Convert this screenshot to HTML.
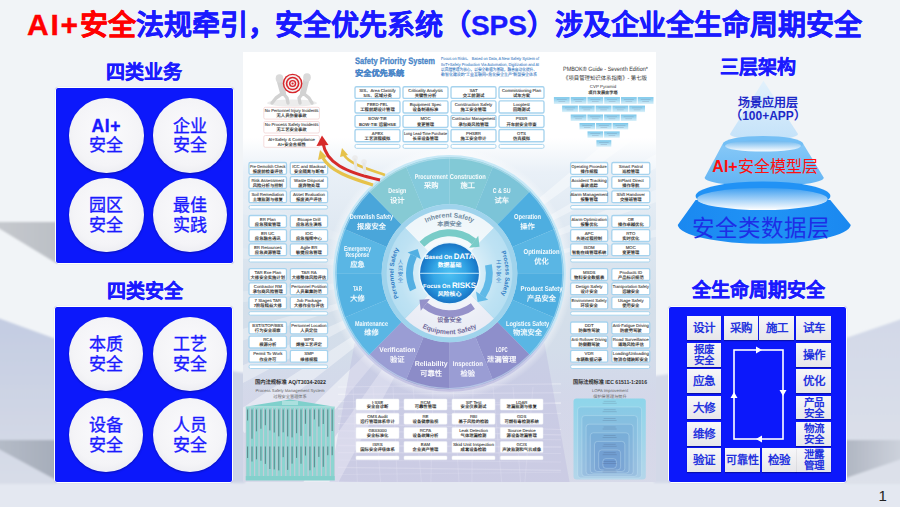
<!DOCTYPE html>
<html lang="zh-CN"><head><meta charset="utf-8">
<style>
*{margin:0;padding:0;box-sizing:border-box}
html,body{width:900px;height:507px;overflow:hidden}
body{position:relative;background:#f1f4f7;font-family:"Liberation Sans",sans-serif}
.abs{position:absolute}
.title{position:absolute;left:27px;top:7px;font-size:28px;font-weight:bold;color:#1a1aff;-webkit-text-stroke:0.35px currentColor;white-space:nowrap;line-height:36px;letter-spacing:-0.07px}
.title .r{color:#ff0000}
.h{position:absolute;font-size:19px;font-weight:bold;color:#1a1aff;-webkit-text-stroke:0.3px currentColor;white-space:nowrap;line-height:22px;text-align:center}
.bluebox{position:absolute;background:#0c18fb;border:1px solid #fff;border-radius:3px;box-shadow:0 0 1px rgba(0,0,0,.2)}
.circ{position:absolute;width:74.5px;height:74.5px;border-radius:50%;background:radial-gradient(circle at 50% 45%,#fbfbfd 0%,#f4f4f7 60%,#e2e3ea 100%);text-align:center;color:#1a1aff;font-family:"Liberation Serif",serif;font-size:17px;line-height:19.5px;-webkit-text-stroke:0.35px currentColor;display:flex;align-items:center;justify-content:center;box-shadow:0 1px 2px rgba(0,0,40,.35)}
.circ>div{margin-top:2px}
.circ b{font-family:"Liberation Sans",sans-serif;font-size:17.5px;letter-spacing:0.6px}
.cell{position:absolute;background:linear-gradient(#f7f7f9,#e6e6ea);color:#2433de;font-size:11.5px;font-weight:bold;text-align:center;line-height:24px;box-shadow:0 1px 1px rgba(0,0,30,.35)}
.cell.two{line-height:11px;padding-top:1px;font-size:10.5px}
</style></head>
<body>
<!-- background shapes -->
<svg class="abs" style="left:0;top:0" width="900" height="507">
 <defs>
  <filter id="bl" x="-10%" y="-10%" width="120%" height="120%"><feGaussianBlur stdDeviation="1.2"/></filter>
  <linearGradient id="shL" x1="0" x2="1" y1="0" y2="0"><stop offset="0" stop-color="#c6c9ce"/><stop offset="1" stop-color="#bcc0c6"/></linearGradient>
  <linearGradient id="floorL" x1="0" x2="0" y1="0" y2="1"><stop offset="0" stop-color="#c3cce2"/><stop offset="0.6" stop-color="#d0d6e5"/><stop offset="1" stop-color="#d8dde8"/></linearGradient>
  <linearGradient id="floorR" x1="0" x2="0" y1="0" y2="1"><stop offset="0" stop-color="#d2d8e8"/><stop offset="0.6" stop-color="#d9dee9"/><stop offset="1" stop-color="#dde1ea"/></linearGradient>
  <linearGradient id="bandL" x1="0" x2="1" y1="0" y2="0"><stop offset="0" stop-color="#b5bcc8"/><stop offset="1" stop-color="#a6adba"/></linearGradient>
  <linearGradient id="bandR" x1="0" x2="1" y1="0" y2="0"><stop offset="0" stop-color="#b0b6c2"/><stop offset="1" stop-color="#cfd4de"/></linearGradient>
 </defs>
 <rect x="0" y="482" width="900" height="25" fill="#e4e8f1"/>
 <g filter="url(#bl)">
 <polygon points="-5,222 56,222 56,263 -5,226" fill="url(#shL)"/>
 <polygon points="-5,317 56,339 56,484 -5,484" fill="url(#floorL)"/>
 <polygon points="-5,440 56,440 56,480 -5,447" fill="url(#bandL)"/>
 <polygon points="846,338 905,318 905,484 846,484" fill="url(#floorR)"/>
 <polygon points="846,440 905,440 905,458 846,478" fill="url(#bandR)"/>
 <polygon points="232,371 245,373 245,483 232,483" fill="#cdd4e5"/>
 <polygon points="654,376 669,374 669,483 654,483" fill="#d3d9e8"/>
 </g>
</svg>

<div class="title"><span class="r"><span style="font-size:30px;letter-spacing:1.8px">AI+</span>安全</span>法规牵引，安全优先系统（SPS）涉及企业全生命周期安全</div>

<div class="h" style="left:104px;top:62px;width:80px">四类业务</div>
<div class="bluebox" style="left:54.5px;top:86.5px;width:179.5px;height:177.5px"></div>
<div class="circ" style="left:69px;top:98px"><div><b>AI+</b><br>安全</div></div>
<div class="circ" style="left:152.5px;top:98px"><div>企业<br>安全</div></div>
<div class="circ" style="left:69px;top:177.5px"><div>园区<br>安全</div></div>
<div class="circ" style="left:152.5px;top:177.5px"><div>最佳<br>实践</div></div>

<div class="h" style="left:104.5px;top:280.5px;width:80px">四类安全</div>
<div class="bluebox" style="left:53.5px;top:305.5px;width:179.5px;height:177px"></div>
<div class="circ" style="left:68.5px;top:316.5px"><div>本质<br>安全</div></div>
<div class="circ" style="left:152.5px;top:316.5px"><div>工艺<br>安全</div></div>
<div class="circ" style="left:68.5px;top:397.5px"><div>设备<br>安全</div></div>
<div class="circ" style="left:152.5px;top:397.5px"><div>人员<br>安全</div></div>

<svg class="abs" style="left:243px;top:52px" width="413" height="430" viewBox="0 0 413 430" font-family="Liberation Sans, sans-serif" text-rendering="geometricPrecision"><defs>
<linearGradient id="cbg" x1="0" y1="0" x2="0" y2="1">
 <stop offset="0" stop-color="#ffffff"/><stop offset="0.2" stop-color="#ffffff"/>
 <stop offset="0.28" stop-color="#e9f0f7"/><stop offset="0.45" stop-color="#dce6f0"/><stop offset="0.6" stop-color="#d4dfea"/><stop offset="0.75" stop-color="#d3dcea"/><stop offset="0.9" stop-color="#d5d9e8"/><stop offset="1" stop-color="#d4d8e8"/>
</linearGradient>
<linearGradient id="lav" x1="0" y1="0" x2="0" y2="1">
 <stop offset="0" stop-color="#d4d4ea" stop-opacity="0"/><stop offset="0.35" stop-color="#d4d4ea" stop-opacity="0.45"/><stop offset="1" stop-color="#d8dae9" stop-opacity="0.7"/>
</linearGradient>
<radialGradient id="glow" cx="0.5" cy="0.5" r="0.5">
 <stop offset="0.85" stop-color="#ffffff" stop-opacity="0.9"/><stop offset="1" stop-color="#ffffff" stop-opacity="0"/>
</radialGradient>
<radialGradient id="core" cx="0.5" cy="0.5" r="0.5">
 <stop offset="0" stop-color="#4cc0f2"/><stop offset="0.55" stop-color="#34a6e6"/><stop offset="0.85" stop-color="#1f86d2"/><stop offset="1" stop-color="#1a74c4"/>
</radialGradient>
<radialGradient id="midring" cx="0.5" cy="0.5" r="0.5">
 <stop offset="0.42" stop-color="#ffffff"/><stop offset="0.75" stop-color="#e6f3fa"/><stop offset="1" stop-color="#c4e4f4"/>
</radialGradient>
<radialGradient id="qfade" cx="0.5" cy="0.5" r="0.5">
 <stop offset="0.45" stop-color="#ffffff" stop-opacity="0.5"/><stop offset="0.8" stop-color="#ffffff" stop-opacity="0.1"/><stop offset="1" stop-color="#ffffff" stop-opacity="0"/>
</radialGradient>
<linearGradient id="purp" x1="0" y1="0" x2="0" y2="1">
 <stop offset="0" stop-color="#a7a3d6" stop-opacity="0.75"/><stop offset="1" stop-color="#c9c6e6" stop-opacity="0.35"/>
</linearGradient>
<linearGradient id="pyr" x1="0" y1="0" x2="0" y2="1">
 <stop offset="0" stop-color="#78c6ea"/><stop offset="0.5" stop-color="#a6daf2"/><stop offset="1" stop-color="#dcf1fa"/>
</linearGradient>
<linearGradient id="nest0" x1="0" y1="0" x2="0" y2="1">
 <stop offset="0" stop-color="#8ed5ea"/><stop offset="1" stop-color="#b4d6ea"/>
</linearGradient>
<linearGradient id="rimg" x1="0" y1="0" x2="0" y2="1">
 <stop offset="0" stop-color="#c6e8f6"/><stop offset="0.7" stop-color="#c6e6f6"/><stop offset="0.85" stop-color="#c9cdea"/><stop offset="1" stop-color="#c4c2e2"/>
</linearGradient>
<linearGradient id="teal" x1="0" y1="0" x2="0" y2="1">
 <stop offset="0" stop-color="#8ad6d2"/><stop offset="1" stop-color="#7ccdc9"/>
</linearGradient>
</defs>
<rect x="0" y="0" width="413" height="430" fill="url(#cbg)"/>
<rect x="0" y="300" width="413" height="130" fill="url(#lav)"/>
<line x1="95" y1="335" x2="318" y2="331.86" stroke="#ffffff" stroke-width="1.1" opacity="0.35"/>
<line x1="95" y1="342.3" x2="318" y2="340.74" stroke="#ffffff" stroke-width="1.2" opacity="0.35"/>
<line x1="95" y1="349.6" x2="318" y2="351.11" stroke="#ffffff" stroke-width="0.7" opacity="0.35"/>
<line x1="95" y1="356.9" x2="318" y2="351.06" stroke="#ffffff" stroke-width="1.4" opacity="0.35"/>
<line x1="95" y1="364.2" x2="318" y2="361.31" stroke="#ffffff" stroke-width="0.8" opacity="0.35"/>
<line x1="95" y1="371.5" x2="318" y2="377.45" stroke="#ffffff" stroke-width="1.1" opacity="0.35"/>
<line x1="95" y1="378.8" x2="318" y2="382.84" stroke="#ffffff" stroke-width="1.1" opacity="0.35"/>
<line x1="95" y1="386.1" x2="318" y2="387.77" stroke="#ffffff" stroke-width="0.8" opacity="0.35"/>
<line x1="95" y1="393.4" x2="318" y2="395.02" stroke="#ffffff" stroke-width="1.5" opacity="0.35"/>
<line x1="95" y1="400.7" x2="318" y2="400.98" stroke="#ffffff" stroke-width="1.3" opacity="0.35"/>
<line x1="95" y1="408" x2="318" y2="410.06" stroke="#ffffff" stroke-width="0.7" opacity="0.35"/>
<line x1="95" y1="415.3" x2="318" y2="418.4" stroke="#ffffff" stroke-width="1.2" opacity="0.35"/>
<line x1="95" y1="422.6" x2="318" y2="420.22" stroke="#ffffff" stroke-width="0.6" opacity="0.35"/>
<line x1="95" y1="429.9" x2="318" y2="434.29" stroke="#ffffff" stroke-width="1.1" opacity="0.35"/>
<line x1="110" y1="335" x2="114.4" y2="430" stroke="#ffffff" stroke-width="1" opacity="0.25"/>
<line x1="130" y1="335" x2="137.6" y2="430" stroke="#ffffff" stroke-width="1" opacity="0.25"/>
<line x1="150" y1="335" x2="154.3" y2="430" stroke="#ffffff" stroke-width="1" opacity="0.25"/>
<line x1="170" y1="335" x2="178.4" y2="430" stroke="#ffffff" stroke-width="1" opacity="0.25"/>
<line x1="190" y1="335" x2="187.9" y2="430" stroke="#ffffff" stroke-width="1" opacity="0.25"/>
<line x1="210" y1="335" x2="216.0" y2="430" stroke="#ffffff" stroke-width="1" opacity="0.25"/>
<line x1="230" y1="335" x2="228.9" y2="430" stroke="#ffffff" stroke-width="1" opacity="0.25"/>
<line x1="250" y1="335" x2="258.7" y2="430" stroke="#ffffff" stroke-width="1" opacity="0.25"/>
<line x1="270" y1="335" x2="277.6" y2="430" stroke="#ffffff" stroke-width="1" opacity="0.25"/>
<line x1="290" y1="335" x2="281.9" y2="430" stroke="#ffffff" stroke-width="1" opacity="0.25"/>
<polygon points="206.5,221.3 84.44,450.87 57.37,434.28" fill="#ffffff" opacity="0.5"/>
<polygon points="206.5,221.3 39.38,420.47 19.47,401.91" fill="#ffffff" opacity="0.45"/>
<polygon points="206.5,221.3 1.62,381.37 -11.55,362.91" fill="#ffffff" opacity="0.4"/>
<polygon points="206.5,221.3 -23.07,343.36 -31.02,327.05" fill="#ffffff" opacity="0.35"/>
<polygon points="206.5,221.3 -40.77,301.64 -44.64,288.59" fill="#ffffff" opacity="0.3"/>
<polygon points="206.5,221.3 -50.97,257.49 -52.51,243.96" fill="#ffffff" opacity="0.22"/>
<polygon points="206.5,221.3 -52.87,203.16 -51.56,189.61" fill="#ffffff" opacity="0.15"/>
<polygon points="206.5,221.3 -43.43,149.63 -37.82,132.37" fill="#ffffff" opacity="0.12"/>
<polygon points="206.5,221.3 405.67,54.18 416.84,68.48" fill="#ffffff" opacity="0.4"/>
<polygon points="206.5,221.3 431.67,91.3 438.16,103.26" fill="#ffffff" opacity="0.35"/>
<polygon points="206.5,221.3 447.57,123.9 452.33,136.65" fill="#ffffff" opacity="0.3"/>
<polygon points="206.5,221.3 460.82,167.24 462.55,176.15" fill="#ffffff" opacity="0.3"/>
<polygon points="111.5,291.3 301.5,291.3 326.5,430 86.5,430" fill="#b4b0dc" opacity="0.3"/>
<g transform="translate(206.5 221.3) scale(0.983 1) translate(-206.5 -221.3)">
<circle cx="206.5" cy="221.3" r="126" fill="url(#glow)"/>
<circle cx="206.5" cy="221.3" r="118.4" fill="url(#rimg)"/>
<path d="M206.5,105.3 A116,116 0 0 1 250.89,114.13 L232.91,157.55 A69,69 0 0 0 206.5,152.3 Z" fill="#82c9d6" />
<path d="M250.89,114.13 A116,116 0 0 1 288.52,139.28 L255.29,172.51 A69,69 0 0 0 232.91,157.55 Z" fill="#7cc4d8" />
<path d="M288.52,139.28 A116,116 0 0 1 313.67,176.91 L270.25,194.89 A69,69 0 0 0 255.29,172.51 Z" fill="#4eaee0" />
<path d="M313.67,176.91 A116,116 0 0 1 322.5,221.3 L275.5,221.3 A69,69 0 0 0 270.25,194.89 Z" fill="#5ab6e4" />
<path d="M322.5,221.3 A116,116 0 0 1 313.67,265.69 L270.25,247.71 A69,69 0 0 0 275.5,221.3 Z" fill="#4eaee0" />
<path d="M313.67,265.69 A116,116 0 0 1 288.52,303.32 L255.29,270.09 A69,69 0 0 0 270.25,247.71 Z" fill="#5ab6e4" />
<path d="M288.52,303.32 A116,116 0 0 1 250.89,328.47 L232.91,285.05 A69,69 0 0 0 255.29,270.09 Z" fill="#8e8fcb" />
<path d="M250.89,328.47 A116,116 0 0 1 206.5,337.3 L206.5,290.3 A69,69 0 0 0 232.91,285.05 Z" fill="#9a9dd4" />
<path d="M206.5,337.3 A116,116 0 0 1 162.11,328.47 L180.09,285.05 A69,69 0 0 0 206.5,290.3 Z" fill="#8c8cc8" />
<path d="M162.11,328.47 A116,116 0 0 1 124.48,303.32 L157.71,270.09 A69,69 0 0 0 180.09,285.05 Z" fill="#9a9dd4" />
<path d="M124.48,303.32 A116,116 0 0 1 99.33,265.69 L142.75,247.71 A69,69 0 0 0 157.71,270.09 Z" fill="#5ab6e4" />
<path d="M99.33,265.69 A116,116 0 0 1 90.5,221.3 L137.5,221.3 A69,69 0 0 0 142.75,247.71 Z" fill="#54b2e2" />
<path d="M90.5,221.3 A116,116 0 0 1 99.33,176.91 L142.75,194.89 A69,69 0 0 0 137.5,221.3 Z" fill="#5ab6e4" />
<path d="M99.33,176.91 A116,116 0 0 1 124.48,139.28 L157.71,172.51 A69,69 0 0 0 142.75,194.89 Z" fill="#4aa6da" />
<path d="M124.48,139.28 A116,116 0 0 1 162.11,114.13 L180.09,157.55 A69,69 0 0 0 157.71,172.51 Z" fill="#86cad4" />
<path d="M162.11,114.13 A116,116 0 0 1 206.5,105.3 L206.5,152.3 A69,69 0 0 0 180.09,157.55 Z" fill="#84cadc" />
<circle cx="206.5" cy="221.3" r="115.2" fill="none" stroke="#d0ecf8" stroke-width="1.2" opacity="0.5"/>
<circle cx="206.5" cy="221.3" r="69" fill="#9fd3ec"/>
<path d="M161.25,176.05 A64,64 0 0 1 251.75,176.05 L227.71,200.09 A30,30 0 0 0 185.29,200.09 Z" fill="#eef6fa" />
<path d="M251.75,266.55 A64,64 0 0 1 161.25,266.55 L185.29,242.51 A30,30 0 0 0 227.71,242.51 Z" fill="#e9ecf5" />
<path d="M251.75,176.05 A64,64 0 0 1 251.75,266.55 L227.71,242.51 A30,30 0 0 0 227.71,200.09 Z" fill="#b7dff2" />
<path d="M161.25,266.55 A64,64 0 0 1 161.25,176.05 L185.29,200.09 A30,30 0 0 0 185.29,242.51 Z" fill="#b7dff2" />
<circle cx="206.5" cy="221.3" r="64" fill="url(#qfade)"/>
<path d="M175.94,189.65 A44,44 0 0 1 233.59,186.63 L229.28,192.14 A37,37 0 0 0 180.8,194.68 Z" fill="#6cc6c2" opacity="0.9"/>
<polygon points="226.51,195.69 235.74,183.87 237.07,194.73" fill="#6cc6c2" opacity="0.9"/>
<path d="M249.54,212.15 A44,44 0 0 1 242.98,245.9 L237.17,241.99 A37,37 0 0 0 242.69,213.61 Z" fill="#4cb0e4" opacity="0.85"/>
<polygon points="233.44,239.47 245.88,247.86 235.14,249.94" fill="#4cb0e4" opacity="0.85"/>
<path d="M232.36,256.9 A44,44 0 0 1 179.41,255.97 L183.72,250.46 A37,37 0 0 0 228.25,251.23 Z" fill="#8b87c4" opacity="0.9"/>
<polygon points="186.49,246.91 177.26,258.73 175.93,247.87" fill="#8b87c4" opacity="0.9"/>
<path d="M166.3,239.2 A44,44 0 0 1 166.95,202.01 L173.24,205.08 A37,37 0 0 0 172.7,236.35 Z" fill="#45a8e0" opacity="0.9"/>
<polygon points="177.29,207.05 163.81,200.48 174.16,196.93" fill="#45a8e0" opacity="0.9"/>
<circle cx="206.5" cy="221.3" r="31.5" fill="#e8f6fc"/>
<circle cx="206.5" cy="221.3" r="30" fill="url(#core)"/>
<line x1="176.5" y1="221.3" x2="236.5" y2="221.3" stroke="#bfe6fa" stroke-width="1"/>
<text x="225.13" y="126.89" font-size="7" fill="#fff" text-anchor="middle" opacity="0.95" font-weight="bold" textLength="36.599999999999994" lengthAdjust="spacingAndGlyphs">Construction</text>
<text x="225.13" y="136.49" font-size="7.4" fill="#fff" text-anchor="middle" font-weight="bold" opacity="0.92">施工</text>
<text x="259.56" y="141.14" font-size="7" fill="#fff" text-anchor="middle" opacity="0.95" font-weight="bold" textLength="18.299999999999997" lengthAdjust="spacingAndGlyphs">C & SU</text>
<text x="259.56" y="150.74" font-size="7.4" fill="#fff" text-anchor="middle" font-weight="bold" opacity="0.92">试车</text>
<text x="285.91" y="167.49" font-size="7" fill="#fff" text-anchor="middle" opacity="0.95" font-weight="bold" textLength="27.45" lengthAdjust="spacingAndGlyphs">Operation</text>
<text x="285.91" y="177.09" font-size="7.4" fill="#fff" text-anchor="middle" font-weight="bold" opacity="0.92">操作</text>
<text x="300.16" y="201.92" font-size="7" fill="#fff" text-anchor="middle" opacity="0.95" font-weight="bold" textLength="36.599999999999994" lengthAdjust="spacingAndGlyphs">Optimization</text>
<text x="300.16" y="211.52" font-size="7.4" fill="#fff" text-anchor="middle" font-weight="bold" opacity="0.92">优化</text>
<text x="300.16" y="239.18" font-size="7" fill="#fff" text-anchor="middle" opacity="0.95" font-weight="bold" textLength="42.699999999999996" lengthAdjust="spacingAndGlyphs">Product Safety</text>
<text x="300.16" y="248.78" font-size="7.4" fill="#fff" text-anchor="middle" font-weight="bold" opacity="0.92">产品安全</text>
<text x="285.91" y="273.61" font-size="7" fill="#fff" text-anchor="middle" opacity="0.95" font-weight="bold" textLength="44" lengthAdjust="spacingAndGlyphs">Logistics Safety</text>
<text x="285.91" y="283.21" font-size="7.4" fill="#fff" text-anchor="middle" font-weight="bold" opacity="0.92">物流安全</text>
<text x="259.56" y="299.96" font-size="7" fill="#fff" text-anchor="middle" opacity="0.95" font-weight="bold" textLength="12.2" lengthAdjust="spacingAndGlyphs">LOPC</text>
<text x="259.56" y="309.56" font-size="7.4" fill="#fff" text-anchor="middle" font-weight="bold" opacity="0.92">泄漏管理</text>
<text x="225.13" y="314.21" font-size="7" fill="#fff" text-anchor="middle" opacity="0.95" font-weight="bold" textLength="30.5" lengthAdjust="spacingAndGlyphs">Inspection</text>
<text x="225.13" y="323.81" font-size="7.4" fill="#fff" text-anchor="middle" font-weight="bold" opacity="0.92">检验</text>
<text x="187.87" y="314.21" font-size="7" fill="#fff" text-anchor="middle" opacity="0.95" font-weight="bold" textLength="33.55" lengthAdjust="spacingAndGlyphs">Reliability</text>
<text x="187.87" y="323.81" font-size="7.4" fill="#fff" text-anchor="middle" font-weight="bold" opacity="0.92">可靠性</text>
<text x="153.44" y="299.96" font-size="7" fill="#fff" text-anchor="middle" opacity="0.95" font-weight="bold" textLength="36.599999999999994" lengthAdjust="spacingAndGlyphs">Verification</text>
<text x="153.44" y="309.56" font-size="7.4" fill="#fff" text-anchor="middle" font-weight="bold" opacity="0.92">验证</text>
<text x="127.09" y="273.61" font-size="7" fill="#fff" text-anchor="middle" opacity="0.95" font-weight="bold" textLength="33.55" lengthAdjust="spacingAndGlyphs">Maintenance</text>
<text x="127.09" y="283.21" font-size="7.4" fill="#fff" text-anchor="middle" font-weight="bold" opacity="0.92">维修</text>
<text x="112.84" y="239.18" font-size="7" fill="#fff" text-anchor="middle" opacity="0.95" font-weight="bold" textLength="9.149999999999999" lengthAdjust="spacingAndGlyphs">TAR</text>
<text x="112.84" y="248.78" font-size="7.4" fill="#fff" text-anchor="middle" font-weight="bold" opacity="0.92">大修</text>
<text x="112.84" y="198.67" font-size="7" fill="#fff" text-anchor="middle" opacity="0.95" font-weight="bold" textLength="27.45" lengthAdjust="spacingAndGlyphs">Emergency</text>
<text x="112.84" y="205.17" font-size="7" fill="#fff" text-anchor="middle" opacity="0.95" font-weight="bold" textLength="24.4" lengthAdjust="spacingAndGlyphs">Response</text>
<text x="112.84" y="214.77" font-size="7.4" fill="#fff" text-anchor="middle" font-weight="bold" opacity="0.92">应急</text>
<text x="127.09" y="167.49" font-size="7" fill="#fff" text-anchor="middle" opacity="0.95" font-weight="bold" textLength="44" lengthAdjust="spacingAndGlyphs">Demolish Safety</text>
<text x="127.09" y="177.09" font-size="7.4" fill="#fff" text-anchor="middle" font-weight="bold" opacity="0.92">报废安全</text>
<text x="153.44" y="141.14" font-size="7" fill="#fff" text-anchor="middle" opacity="0.95" font-weight="bold" textLength="18.299999999999997" lengthAdjust="spacingAndGlyphs">Design</text>
<text x="153.44" y="150.74" font-size="7.4" fill="#fff" text-anchor="middle" font-weight="bold" opacity="0.92">设计</text>
<text x="187.87" y="126.89" font-size="7" fill="#fff" text-anchor="middle" opacity="0.95" font-weight="bold" textLength="33.55" lengthAdjust="spacingAndGlyphs">Procurement</text>
<text x="187.87" y="136.49" font-size="7.4" fill="#fff" text-anchor="middle" font-weight="bold" opacity="0.92">采购</text>
<text x="206.5" y="207.3" font-size="6" fill="#fff" text-anchor="middle" font-weight="bold">Based On <tspan font-size="8">DATA</tspan></text>
<text x="206.5" y="215.3" font-size="6" fill="#fff" text-anchor="middle" font-weight="bold">数据基础</text>
<text x="206.5" y="235.8" font-size="6" fill="#fff" text-anchor="middle" font-weight="bold">Focus On <tspan font-size="8">RISKS</tspan></text>
<text x="206.5" y="243.8" font-size="6" fill="#fff" text-anchor="middle" font-weight="bold">风险核心</text>
<defs><path id="ap1" d="M170.5,178.4 A56,56 0 0 1 242.5,178.4" fill="none"/><path id="ap2" d="M159.77,260.51 A61,61 0 0 0 253.23,260.51" fill="none"/><path id="ap3" d="M169.86,264.96 A57,57 0 0 1 169.86,177.64" fill="none"/><path id="ap4" d="M243.14,177.64 A57,57 0 0 1 243.14,264.96" fill="none"/></defs>
<text font-size="6.8" fill="#6f8aa0" font-weight="bold"><textPath href="#ap1" startOffset="50%" text-anchor="middle">Inherent Safety</textPath></text>
<text x="206.5" y="174.3" font-size="6.2" fill="#6f8aa0" text-anchor="middle" font-weight="bold">本质安全</text>
<text x="206.5" y="270.3" font-size="6.2" fill="#6f6a9c" text-anchor="middle" font-weight="bold">设备安全</text>
<text font-size="6.8" fill="#6f6a9c" font-weight="bold"><textPath href="#ap2" startOffset="50%" text-anchor="middle">Equipment Safety</textPath></text>
<text font-size="6.2" fill="#2f7cc4" font-weight="bold"><textPath href="#ap3" startOffset="50%" text-anchor="middle">Personnel Safety</textPath></text>
<text font-size="6.2" fill="#2f7cc4" font-weight="bold"><textPath href="#ap4" startOffset="50%" text-anchor="middle">Process Safety</textPath></text>
<text x="156.5" y="212.3" font-size="5.5" fill="#2f7cc4" text-anchor="middle">人</text>
<text x="156.5" y="218.3" font-size="5.5" fill="#2f7cc4" text-anchor="middle">员</text>
<text x="156.5" y="224.3" font-size="5.5" fill="#2f7cc4" text-anchor="middle">安</text>
<text x="156.5" y="230.3" font-size="5.5" fill="#2f7cc4" text-anchor="middle">全</text>
<text x="256.5" y="212.3" font-size="5.5" fill="#2f7cc4" text-anchor="middle">工</text>
<text x="256.5" y="218.3" font-size="5.5" fill="#2f7cc4" text-anchor="middle">艺</text>
<text x="256.5" y="224.3" font-size="5.5" fill="#2f7cc4" text-anchor="middle">安</text>
<text x="256.5" y="230.3" font-size="5.5" fill="#2f7cc4" text-anchor="middle">全</text>
</g>
<rect x="112" y="34.7" width="45" height="11.7" rx="1.5" fill="#ffffff" stroke="#a6d3ee" stroke-width="1.35"/>
<text x="134.5" y="39.73" font-size="4.3" fill="#333" stroke="#555" stroke-width="0.12" text-anchor="middle">SIS、Area Classify</text><text x="134.5" y="44.76" font-size="4.3" fill="#3a3a3a" text-anchor="middle" font-weight="bold">SIS、区域分类</text>
<rect x="112" y="48.9" width="45" height="12.1" rx="1.5" fill="#ffffff" stroke="#a6d3ee" stroke-width="1.35"/>
<text x="134.5" y="54.1" font-size="4.3" fill="#333" stroke="#555" stroke-width="0.12" text-anchor="middle">FEED-FEL</text><text x="134.5" y="59.31" font-size="4.3" fill="#3a3a3a" text-anchor="middle" font-weight="bold">工程前期设计管理</text>
<rect x="112" y="63.3" width="45" height="12" rx="1.5" fill="#ffffff" stroke="#a6d3ee" stroke-width="1.35"/>
<text x="134.5" y="68.46" font-size="4.3" fill="#333" stroke="#555" stroke-width="0.12" text-anchor="middle">BOW-TIE</text><text x="134.5" y="73.62" font-size="4.3" fill="#3a3a3a" text-anchor="middle" font-weight="bold">BOW-TIE 运营HSE</text>
<rect x="112" y="77.5" width="45" height="12.2" rx="1.5" fill="#ffffff" stroke="#a6d3ee" stroke-width="1.35"/>
<text x="134.5" y="82.75" font-size="4.3" fill="#333" stroke="#555" stroke-width="0.12" text-anchor="middle">APEX</text><text x="134.5" y="87.99" font-size="4.3" fill="#3a3a3a" text-anchor="middle" font-weight="bold">工艺流程模拟</text>
<rect x="112" y="92.4" width="45" height="3.9" rx="1.5" fill="#ffffff" stroke="#a9d5ee" stroke-width="1.0"/>
<rect x="160" y="34.7" width="45" height="11.7" rx="1.5" fill="#ffffff" stroke="#a6d3ee" stroke-width="1.35"/>
<text x="182.5" y="39.73" font-size="4.3" fill="#333" stroke="#555" stroke-width="0.12" text-anchor="middle">Criticality Analysis</text><text x="182.5" y="44.76" font-size="4.3" fill="#3a3a3a" text-anchor="middle" font-weight="bold">关键性分析</text>
<rect x="160" y="48.9" width="45" height="12.1" rx="1.5" fill="#ffffff" stroke="#a6d3ee" stroke-width="1.35"/>
<text x="182.5" y="54.1" font-size="4.3" fill="#333" stroke="#555" stroke-width="0.12" text-anchor="middle">Equipment Spec</text><text x="182.5" y="59.31" font-size="4.3" fill="#3a3a3a" text-anchor="middle" font-weight="bold">设备制造标准</text>
<rect x="160" y="63.3" width="45" height="12" rx="1.5" fill="#ffffff" stroke="#a6d3ee" stroke-width="1.35"/>
<text x="182.5" y="68.46" font-size="4.3" fill="#333" stroke="#555" stroke-width="0.12" text-anchor="middle">MOC</text><text x="182.5" y="73.62" font-size="4.3" fill="#3a3a3a" text-anchor="middle" font-weight="bold">变更管理</text>
<rect x="160" y="77.5" width="45" height="12.2" rx="1.5" fill="#ffffff" stroke="#a6d3ee" stroke-width="1.35"/>
<text x="182.5" y="82.75" font-size="4.3" fill="#333" stroke="#555" stroke-width="0.12" text-anchor="middle" textLength="43" lengthAdjust="spacingAndGlyphs">Long Lead-Time Purchase</text><text x="182.5" y="87.99" font-size="4.3" fill="#3a3a3a" text-anchor="middle" font-weight="bold">长采设备管理</text>
<rect x="160" y="92.4" width="45" height="3.9" rx="1.5" fill="#ffffff" stroke="#a9d5ee" stroke-width="1.0"/>
<rect x="208" y="34.7" width="45" height="11.7" rx="1.5" fill="#ffffff" stroke="#a6d3ee" stroke-width="1.35"/>
<text x="230.5" y="39.73" font-size="4.3" fill="#333" stroke="#555" stroke-width="0.12" text-anchor="middle">SAT</text><text x="230.5" y="44.76" font-size="4.3" fill="#3a3a3a" text-anchor="middle" font-weight="bold">交工前测试</text>
<rect x="208" y="48.9" width="45" height="12.1" rx="1.5" fill="#ffffff" stroke="#a6d3ee" stroke-width="1.35"/>
<text x="230.5" y="54.1" font-size="4.3" fill="#333" stroke="#555" stroke-width="0.12" text-anchor="middle">Construction Safety</text><text x="230.5" y="59.31" font-size="4.3" fill="#3a3a3a" text-anchor="middle" font-weight="bold">施工安全管理</text>
<rect x="208" y="63.3" width="45" height="12" rx="1.5" fill="#ffffff" stroke="#a6d3ee" stroke-width="1.35"/>
<text x="230.5" y="68.46" font-size="4.3" fill="#333" stroke="#555" stroke-width="0.12" text-anchor="middle" textLength="43" lengthAdjust="spacingAndGlyphs">Contractor Management</text><text x="230.5" y="73.62" font-size="4.3" fill="#3a3a3a" text-anchor="middle" font-weight="bold">承包商风险管理</text>
<rect x="208" y="77.5" width="45" height="12.2" rx="1.5" fill="#ffffff" stroke="#a6d3ee" stroke-width="1.35"/>
<text x="230.5" y="82.75" font-size="4.3" fill="#333" stroke="#555" stroke-width="0.12" text-anchor="middle">PHSER</text><text x="230.5" y="87.99" font-size="4.3" fill="#3a3a3a" text-anchor="middle" font-weight="bold">施工安全审计</text>
<rect x="208" y="92.4" width="45" height="3.9" rx="1.5" fill="#ffffff" stroke="#a9d5ee" stroke-width="1.0"/>
<rect x="256" y="34.7" width="45" height="11.7" rx="1.5" fill="#ffffff" stroke="#a6d3ee" stroke-width="1.35"/>
<text x="278.5" y="39.73" font-size="4.3" fill="#333" stroke="#555" stroke-width="0.12" text-anchor="middle">Commissioning Plan</text><text x="278.5" y="44.76" font-size="4.3" fill="#3a3a3a" text-anchor="middle" font-weight="bold">试车方案</text>
<rect x="256" y="48.9" width="45" height="12.1" rx="1.5" fill="#ffffff" stroke="#a6d3ee" stroke-width="1.35"/>
<text x="278.5" y="54.1" font-size="4.3" fill="#333" stroke="#555" stroke-width="0.12" text-anchor="middle">Looptest</text><text x="278.5" y="59.31" font-size="4.3" fill="#3a3a3a" text-anchor="middle" font-weight="bold">回路测试</text>
<rect x="256" y="63.3" width="45" height="12" rx="1.5" fill="#ffffff" stroke="#a6d3ee" stroke-width="1.35"/>
<text x="278.5" y="68.46" font-size="4.3" fill="#333" stroke="#555" stroke-width="0.12" text-anchor="middle">PSSR</text><text x="278.5" y="73.62" font-size="4.3" fill="#3a3a3a" text-anchor="middle" font-weight="bold">开车前安全审查</text>
<rect x="256" y="77.5" width="45" height="12.2" rx="1.5" fill="#ffffff" stroke="#a6d3ee" stroke-width="1.35"/>
<text x="278.5" y="82.75" font-size="4.3" fill="#333" stroke="#555" stroke-width="0.12" text-anchor="middle">OTS</text><text x="278.5" y="87.99" font-size="4.3" fill="#3a3a3a" text-anchor="middle" font-weight="bold">仿真模拟</text>
<rect x="256" y="92.4" width="45" height="3.9" rx="1.5" fill="#ffffff" stroke="#a9d5ee" stroke-width="1.0"/>
<rect x="6" y="110.5" width="37.5" height="11.8" rx="1.5" fill="#ffffff" stroke="#a6d3ee" stroke-width="1.3"/>
<text x="24.75" y="115.57" font-size="4.3" fill="#333" stroke="#555" stroke-width="0.12" text-anchor="middle" textLength="35.5" lengthAdjust="spacingAndGlyphs">Pre-Demolish Check</text><text x="24.75" y="120.65" font-size="4.3" fill="#3a3a3a" text-anchor="middle" font-weight="bold">报废前检查评估</text>
<rect x="47.3" y="110.5" width="37.3" height="11.8" rx="1.5" fill="#ffffff" stroke="#a6d3ee" stroke-width="1.3"/>
<text x="65.95" y="115.57" font-size="4.3" fill="#333" stroke="#555" stroke-width="0.12" text-anchor="middle">ICC and Blackout</text><text x="65.95" y="120.65" font-size="4.3" fill="#3a3a3a" text-anchor="middle" font-weight="bold">安全隔离与断电</text>
<rect x="6" y="124.7" width="37.5" height="11.8" rx="1.5" fill="#ffffff" stroke="#a6d3ee" stroke-width="1.3"/>
<text x="24.75" y="129.77" font-size="4.3" fill="#333" stroke="#555" stroke-width="0.12" text-anchor="middle">Risk Assessment</text><text x="24.75" y="134.85" font-size="4.3" fill="#3a3a3a" text-anchor="middle" font-weight="bold">风险分析与控制</text>
<rect x="47.3" y="124.7" width="37.3" height="11.8" rx="1.5" fill="#ffffff" stroke="#a6d3ee" stroke-width="1.3"/>
<text x="65.95" y="129.77" font-size="4.3" fill="#333" stroke="#555" stroke-width="0.12" text-anchor="middle">Waste Disposal</text><text x="65.95" y="134.85" font-size="4.3" fill="#3a3a3a" text-anchor="middle" font-weight="bold">废弃物处理</text>
<rect x="6" y="138.9" width="37.5" height="11.8" rx="1.5" fill="#ffffff" stroke="#a6d3ee" stroke-width="1.3"/>
<text x="24.75" y="143.97" font-size="4.3" fill="#333" stroke="#555" stroke-width="0.12" text-anchor="middle">Soil Remediation</text><text x="24.75" y="149.05" font-size="4.3" fill="#3a3a3a" text-anchor="middle" font-weight="bold">土壤监测与修复</text>
<rect x="47.3" y="138.9" width="37.3" height="11.8" rx="1.5" fill="#ffffff" stroke="#a6d3ee" stroke-width="1.3"/>
<text x="65.95" y="143.97" font-size="4.3" fill="#333" stroke="#555" stroke-width="0.12" text-anchor="middle">Asset Evaluation</text><text x="65.95" y="149.05" font-size="4.3" fill="#3a3a3a" text-anchor="middle" font-weight="bold">报废资产评估</text>
<rect x="327.6" y="110.5" width="37.1" height="11.8" rx="1.5" fill="#ffffff" stroke="#a6d3ee" stroke-width="1.3"/>
<text x="346.15" y="115.57" font-size="4.3" fill="#333" stroke="#555" stroke-width="0.12" text-anchor="middle" textLength="35.1" lengthAdjust="spacingAndGlyphs">Operating Procedure</text><text x="346.15" y="120.65" font-size="4.3" fill="#3a3a3a" text-anchor="middle" font-weight="bold">操作规程</text>
<rect x="368.8" y="110.5" width="38" height="11.8" rx="1.5" fill="#ffffff" stroke="#a6d3ee" stroke-width="1.3"/>
<text x="387.8" y="115.57" font-size="4.3" fill="#333" stroke="#555" stroke-width="0.12" text-anchor="middle">Smart Patrol</text><text x="387.8" y="120.65" font-size="4.3" fill="#3a3a3a" text-anchor="middle" font-weight="bold">巡检管理</text>
<rect x="327.6" y="124.7" width="37.1" height="11.8" rx="1.5" fill="#ffffff" stroke="#a6d3ee" stroke-width="1.3"/>
<text x="346.15" y="129.77" font-size="4.3" fill="#333" stroke="#555" stroke-width="0.12" text-anchor="middle" textLength="35.1" lengthAdjust="spacingAndGlyphs">Accident Tracking</text><text x="346.15" y="134.85" font-size="4.3" fill="#3a3a3a" text-anchor="middle" font-weight="bold">事故追踪</text>
<rect x="368.8" y="124.7" width="38" height="11.8" rx="1.5" fill="#ffffff" stroke="#a6d3ee" stroke-width="1.3"/>
<text x="387.8" y="129.77" font-size="4.3" fill="#333" stroke="#555" stroke-width="0.12" text-anchor="middle">InPlant Direct</text><text x="387.8" y="134.85" font-size="4.3" fill="#3a3a3a" text-anchor="middle" font-weight="bold">操作导航</text>
<rect x="327.6" y="138.9" width="37.1" height="11.8" rx="1.5" fill="#ffffff" stroke="#a6d3ee" stroke-width="1.3"/>
<text x="346.15" y="143.97" font-size="4.3" fill="#333" stroke="#555" stroke-width="0.12" text-anchor="middle">Alarm Management</text><text x="346.15" y="149.05" font-size="4.3" fill="#3a3a3a" text-anchor="middle" font-weight="bold">报警管理</text>
<rect x="368.8" y="138.9" width="38" height="11.8" rx="1.5" fill="#ffffff" stroke="#a6d3ee" stroke-width="1.3"/>
<text x="387.8" y="143.97" font-size="4.3" fill="#333" stroke="#555" stroke-width="0.12" text-anchor="middle">Shift Handover</text><text x="387.8" y="149.05" font-size="4.3" fill="#3a3a3a" text-anchor="middle" font-weight="bold">交接班管理</text>
<rect x="6" y="153.5" width="78.6" height="3.5" rx="1.5" fill="#ffffff" stroke="#a9d5ee" stroke-width="1.0"/>
<rect x="327.6" y="153.5" width="79.2" height="3.5" rx="1.5" fill="#ffffff" stroke="#a9d5ee" stroke-width="1.0"/>
<rect x="6" y="163.5" width="37.5" height="11.8" rx="1.5" fill="#ffffff" stroke="#a6d3ee" stroke-width="1.3"/>
<text x="24.75" y="168.57" font-size="4.3" fill="#333" stroke="#555" stroke-width="0.12" text-anchor="middle">ER Plan</text><text x="24.75" y="173.65" font-size="4.3" fill="#3a3a3a" text-anchor="middle" font-weight="bold">应急预案管理</text>
<rect x="47.3" y="163.5" width="37.3" height="11.8" rx="1.5" fill="#ffffff" stroke="#a6d3ee" stroke-width="1.3"/>
<text x="65.95" y="168.57" font-size="4.3" fill="#333" stroke="#555" stroke-width="0.12" text-anchor="middle">Escape Drill</text><text x="65.95" y="173.65" font-size="4.3" fill="#3a3a3a" text-anchor="middle" font-weight="bold">应急逃生演练</text>
<rect x="6" y="177.7" width="37.5" height="11.8" rx="1.5" fill="#ffffff" stroke="#a6d3ee" stroke-width="1.3"/>
<text x="24.75" y="182.77" font-size="4.3" fill="#333" stroke="#555" stroke-width="0.12" text-anchor="middle">ER UC</text><text x="24.75" y="187.85" font-size="4.3" fill="#3a3a3a" text-anchor="middle" font-weight="bold">应急融合通讯</text>
<rect x="47.3" y="177.7" width="37.3" height="11.8" rx="1.5" fill="#ffffff" stroke="#a6d3ee" stroke-width="1.3"/>
<text x="65.95" y="182.77" font-size="4.3" fill="#333" stroke="#555" stroke-width="0.12" text-anchor="middle">IOC</text><text x="65.95" y="187.85" font-size="4.3" fill="#3a3a3a" text-anchor="middle" font-weight="bold">应急指挥中心</text>
<rect x="6" y="191.9" width="37.5" height="11.8" rx="1.5" fill="#ffffff" stroke="#a6d3ee" stroke-width="1.3"/>
<text x="24.75" y="196.97" font-size="4.3" fill="#333" stroke="#555" stroke-width="0.12" text-anchor="middle">ER Resources</text><text x="24.75" y="202.05" font-size="4.3" fill="#3a3a3a" text-anchor="middle" font-weight="bold">应急资源管理</text>
<rect x="47.3" y="191.9" width="37.3" height="11.8" rx="1.5" fill="#ffffff" stroke="#a6d3ee" stroke-width="1.3"/>
<text x="65.95" y="196.97" font-size="4.3" fill="#333" stroke="#555" stroke-width="0.12" text-anchor="middle">Agile ER</text><text x="65.95" y="202.05" font-size="4.3" fill="#3a3a3a" text-anchor="middle" font-weight="bold">敏捷应急管理</text>
<rect x="327.6" y="163.5" width="37.1" height="11.8" rx="1.5" fill="#ffffff" stroke="#a6d3ee" stroke-width="1.3"/>
<text x="346.15" y="168.57" font-size="4.3" fill="#333" stroke="#555" stroke-width="0.12" text-anchor="middle" textLength="35.1" lengthAdjust="spacingAndGlyphs">Alarm Optimization</text><text x="346.15" y="173.65" font-size="4.3" fill="#3a3a3a" text-anchor="middle" font-weight="bold">报警优化</text>
<rect x="368.8" y="163.5" width="38" height="11.8" rx="1.5" fill="#ffffff" stroke="#a6d3ee" stroke-width="1.3"/>
<text x="387.8" y="168.57" font-size="4.3" fill="#333" stroke="#555" stroke-width="0.12" text-anchor="middle">OE</text><text x="387.8" y="173.65" font-size="4.3" fill="#3a3a3a" text-anchor="middle" font-weight="bold">操作卓越优化</text>
<rect x="327.6" y="177.7" width="37.1" height="11.8" rx="1.5" fill="#ffffff" stroke="#a6d3ee" stroke-width="1.3"/>
<text x="346.15" y="182.77" font-size="4.3" fill="#333" stroke="#555" stroke-width="0.12" text-anchor="middle">APC</text><text x="346.15" y="187.85" font-size="4.3" fill="#3a3a3a" text-anchor="middle" font-weight="bold">先进过程控制</text>
<rect x="368.8" y="177.7" width="38" height="11.8" rx="1.5" fill="#ffffff" stroke="#a6d3ee" stroke-width="1.3"/>
<text x="387.8" y="182.77" font-size="4.3" fill="#333" stroke="#555" stroke-width="0.12" text-anchor="middle">RTO</text><text x="387.8" y="187.85" font-size="4.3" fill="#3a3a3a" text-anchor="middle" font-weight="bold">实时优化</text>
<rect x="327.6" y="191.9" width="37.1" height="11.8" rx="1.5" fill="#ffffff" stroke="#a6d3ee" stroke-width="1.3"/>
<text x="346.15" y="196.97" font-size="4.3" fill="#333" stroke="#555" stroke-width="0.12" text-anchor="middle">ISOM</text><text x="346.15" y="202.05" font-size="4.3" fill="#3a3a3a" text-anchor="middle" font-weight="bold">智能在线管理系统</text>
<rect x="368.8" y="191.9" width="38" height="11.8" rx="1.5" fill="#ffffff" stroke="#a6d3ee" stroke-width="1.3"/>
<text x="387.8" y="196.97" font-size="4.3" fill="#333" stroke="#555" stroke-width="0.12" text-anchor="middle">MOC</text><text x="387.8" y="202.05" font-size="4.3" fill="#3a3a3a" text-anchor="middle" font-weight="bold">变更管理</text>
<rect x="6" y="206.5" width="78.6" height="3.5" rx="1.5" fill="#ffffff" stroke="#a9d5ee" stroke-width="1.0"/>
<rect x="327.6" y="206.5" width="79.2" height="3.5" rx="1.5" fill="#ffffff" stroke="#a9d5ee" stroke-width="1.0"/>
<rect x="6" y="216.7" width="37.5" height="11.8" rx="1.5" fill="#ffffff" stroke="#a6d3ee" stroke-width="1.3"/>
<text x="24.75" y="221.77" font-size="4.3" fill="#333" stroke="#555" stroke-width="0.12" text-anchor="middle">TAR Exe Plan</text><text x="24.75" y="226.85" font-size="4.3" fill="#3a3a3a" text-anchor="middle" font-weight="bold">大修安全实施计划</text>
<rect x="47.3" y="216.7" width="37.3" height="11.8" rx="1.5" fill="#ffffff" stroke="#a6d3ee" stroke-width="1.3"/>
<text x="65.95" y="221.77" font-size="4.3" fill="#333" stroke="#555" stroke-width="0.12" text-anchor="middle">TAR RA</text><text x="65.95" y="226.85" font-size="4.3" fill="#3a3a3a" text-anchor="middle" font-weight="bold">大修整体风险评估</text>
<rect x="6" y="230.9" width="37.5" height="11.8" rx="1.5" fill="#ffffff" stroke="#a6d3ee" stroke-width="1.3"/>
<text x="24.75" y="235.97" font-size="4.3" fill="#333" stroke="#555" stroke-width="0.12" text-anchor="middle">Contractor RM</text><text x="24.75" y="241.05" font-size="4.3" fill="#3a3a3a" text-anchor="middle" font-weight="bold">承包商风险管理</text>
<rect x="47.3" y="230.9" width="37.3" height="11.8" rx="1.5" fill="#ffffff" stroke="#a6d3ee" stroke-width="1.3"/>
<text x="65.95" y="235.97" font-size="4.3" fill="#333" stroke="#555" stroke-width="0.12" text-anchor="middle" textLength="35.3" lengthAdjust="spacingAndGlyphs">Personnel Position</text><text x="65.95" y="241.05" font-size="4.3" fill="#3a3a3a" text-anchor="middle" font-weight="bold">人员聚集防范</text>
<rect x="6" y="245.1" width="37.5" height="11.8" rx="1.5" fill="#ffffff" stroke="#a6d3ee" stroke-width="1.3"/>
<text x="24.75" y="250.17" font-size="4.3" fill="#333" stroke="#555" stroke-width="0.12" text-anchor="middle">7 Stages TAR</text><text x="24.75" y="255.25" font-size="4.3" fill="#3a3a3a" text-anchor="middle" font-weight="bold">7阶段精益大修</text>
<rect x="47.3" y="245.1" width="37.3" height="11.8" rx="1.5" fill="#ffffff" stroke="#a6d3ee" stroke-width="1.3"/>
<text x="65.95" y="250.17" font-size="4.3" fill="#333" stroke="#555" stroke-width="0.12" text-anchor="middle">Job Package</text><text x="65.95" y="255.25" font-size="4.3" fill="#3a3a3a" text-anchor="middle" font-weight="bold">大修作业包评估</text>
<rect x="327.6" y="216.7" width="37.1" height="11.8" rx="1.5" fill="#ffffff" stroke="#a6d3ee" stroke-width="1.3"/>
<text x="346.15" y="221.77" font-size="4.3" fill="#333" stroke="#555" stroke-width="0.12" text-anchor="middle">MSDS</text><text x="346.15" y="226.85" font-size="4.3" fill="#3a3a3a" text-anchor="middle" font-weight="bold">物料安全数据表</text>
<rect x="368.8" y="216.7" width="38" height="11.8" rx="1.5" fill="#ffffff" stroke="#a6d3ee" stroke-width="1.3"/>
<text x="387.8" y="221.77" font-size="4.3" fill="#333" stroke="#555" stroke-width="0.12" text-anchor="middle">Products ID</text><text x="387.8" y="226.85" font-size="4.3" fill="#3a3a3a" text-anchor="middle" font-weight="bold">产品标识规范</text>
<rect x="327.6" y="230.9" width="37.1" height="11.8" rx="1.5" fill="#ffffff" stroke="#a6d3ee" stroke-width="1.3"/>
<text x="346.15" y="235.97" font-size="4.3" fill="#333" stroke="#555" stroke-width="0.12" text-anchor="middle">Design Safety</text><text x="346.15" y="241.05" font-size="4.3" fill="#3a3a3a" text-anchor="middle" font-weight="bold">设计安全</text>
<rect x="368.8" y="230.9" width="38" height="11.8" rx="1.5" fill="#ffffff" stroke="#a6d3ee" stroke-width="1.3"/>
<text x="387.8" y="235.97" font-size="4.3" fill="#333" stroke="#555" stroke-width="0.12" text-anchor="middle" textLength="36" lengthAdjust="spacingAndGlyphs">Transportation Safety</text><text x="387.8" y="241.05" font-size="4.3" fill="#3a3a3a" text-anchor="middle" font-weight="bold">运输安全</text>
<rect x="327.6" y="245.1" width="37.1" height="11.8" rx="1.5" fill="#ffffff" stroke="#a6d3ee" stroke-width="1.3"/>
<text x="346.15" y="250.17" font-size="4.3" fill="#333" stroke="#555" stroke-width="0.12" text-anchor="middle" textLength="35.1" lengthAdjust="spacingAndGlyphs">Environment Safety</text><text x="346.15" y="255.25" font-size="4.3" fill="#3a3a3a" text-anchor="middle" font-weight="bold">环境安全</text>
<rect x="368.8" y="245.1" width="38" height="11.8" rx="1.5" fill="#ffffff" stroke="#a6d3ee" stroke-width="1.3"/>
<text x="387.8" y="250.17" font-size="4.3" fill="#333" stroke="#555" stroke-width="0.12" text-anchor="middle">Usage Safety</text><text x="387.8" y="255.25" font-size="4.3" fill="#3a3a3a" text-anchor="middle" font-weight="bold">使用安全</text>
<rect x="6" y="259.7" width="78.6" height="3.5" rx="1.5" fill="#ffffff" stroke="#a9d5ee" stroke-width="1.0"/>
<rect x="327.6" y="259.7" width="79.2" height="3.5" rx="1.5" fill="#ffffff" stroke="#a9d5ee" stroke-width="1.0"/>
<rect x="6" y="270" width="37.5" height="11.8" rx="1.5" fill="#ffffff" stroke="#a6d3ee" stroke-width="1.3"/>
<text x="24.75" y="275.07" font-size="4.3" fill="#333" stroke="#555" stroke-width="0.12" text-anchor="middle">BST/STOP/BBS</text><text x="24.75" y="280.15" font-size="4.3" fill="#3a3a3a" text-anchor="middle" font-weight="bold">行为安全观察</text>
<rect x="47.3" y="270" width="37.3" height="11.8" rx="1.5" fill="#ffffff" stroke="#a6d3ee" stroke-width="1.3"/>
<text x="65.95" y="275.07" font-size="4.3" fill="#333" stroke="#555" stroke-width="0.12" text-anchor="middle" textLength="35.3" lengthAdjust="spacingAndGlyphs">Personnel Location</text><text x="65.95" y="280.15" font-size="4.3" fill="#3a3a3a" text-anchor="middle" font-weight="bold">人员定位</text>
<rect x="6" y="284.2" width="37.5" height="11.8" rx="1.5" fill="#ffffff" stroke="#a6d3ee" stroke-width="1.3"/>
<text x="24.75" y="289.27" font-size="4.3" fill="#333" stroke="#555" stroke-width="0.12" text-anchor="middle">RCA</text><text x="24.75" y="294.35" font-size="4.3" fill="#3a3a3a" text-anchor="middle" font-weight="bold">根源分析</text>
<rect x="47.3" y="284.2" width="37.3" height="11.8" rx="1.5" fill="#ffffff" stroke="#a6d3ee" stroke-width="1.3"/>
<text x="65.95" y="289.27" font-size="4.3" fill="#333" stroke="#555" stroke-width="0.12" text-anchor="middle">WPS</text><text x="65.95" y="294.35" font-size="4.3" fill="#3a3a3a" text-anchor="middle" font-weight="bold">焊接工艺评定</text>
<rect x="6" y="298.4" width="37.5" height="11.8" rx="1.5" fill="#ffffff" stroke="#a6d3ee" stroke-width="1.3"/>
<text x="24.75" y="303.47" font-size="4.3" fill="#333" stroke="#555" stroke-width="0.12" text-anchor="middle">Permit To Work</text><text x="24.75" y="308.55" font-size="4.3" fill="#3a3a3a" text-anchor="middle" font-weight="bold">作业许可</text>
<rect x="47.3" y="298.4" width="37.3" height="11.8" rx="1.5" fill="#ffffff" stroke="#a6d3ee" stroke-width="1.3"/>
<text x="65.95" y="303.47" font-size="4.3" fill="#333" stroke="#555" stroke-width="0.12" text-anchor="middle">SMP</text><text x="65.95" y="308.55" font-size="4.3" fill="#3a3a3a" text-anchor="middle" font-weight="bold">维修规程</text>
<rect x="327.6" y="270" width="37.1" height="11.8" rx="1.5" fill="#ffffff" stroke="#a6d3ee" stroke-width="1.3"/>
<text x="346.15" y="275.07" font-size="4.3" fill="#333" stroke="#555" stroke-width="0.12" text-anchor="middle">DDT</text><text x="346.15" y="280.15" font-size="4.3" fill="#3a3a3a" text-anchor="middle" font-weight="bold">防御性驾驶</text>
<rect x="368.8" y="270" width="38" height="11.8" rx="1.5" fill="#ffffff" stroke="#a6d3ee" stroke-width="1.3"/>
<text x="387.8" y="275.07" font-size="4.3" fill="#333" stroke="#555" stroke-width="0.12" text-anchor="middle" textLength="36" lengthAdjust="spacingAndGlyphs">Anti-Fatigue Driving</text><text x="387.8" y="280.15" font-size="4.3" fill="#3a3a3a" text-anchor="middle" font-weight="bold">防疲劳驾驶</text>
<rect x="327.6" y="284.2" width="37.1" height="11.8" rx="1.5" fill="#ffffff" stroke="#a6d3ee" stroke-width="1.3"/>
<text x="346.15" y="289.27" font-size="4.3" fill="#333" stroke="#555" stroke-width="0.12" text-anchor="middle" textLength="35.1" lengthAdjust="spacingAndGlyphs">Anti-Rollover Driving</text><text x="346.15" y="294.35" font-size="4.3" fill="#3a3a3a" text-anchor="middle" font-weight="bold">防侧翻驾驶</text>
<rect x="368.8" y="284.2" width="38" height="11.8" rx="1.5" fill="#ffffff" stroke="#a6d3ee" stroke-width="1.3"/>
<text x="387.8" y="289.27" font-size="4.3" fill="#333" stroke="#555" stroke-width="0.12" text-anchor="middle" textLength="36" lengthAdjust="spacingAndGlyphs">Road Surveillance</text><text x="387.8" y="294.35" font-size="4.3" fill="#3a3a3a" text-anchor="middle" font-weight="bold">道路风险评估</text>
<rect x="327.6" y="298.4" width="37.1" height="11.8" rx="1.5" fill="#ffffff" stroke="#a6d3ee" stroke-width="1.3"/>
<text x="346.15" y="303.47" font-size="4.3" fill="#333" stroke="#555" stroke-width="0.12" text-anchor="middle">VDR</text><text x="346.15" y="308.55" font-size="4.3" fill="#3a3a3a" text-anchor="middle" font-weight="bold">车辆数据记录</text>
<rect x="368.8" y="298.4" width="38" height="11.8" rx="1.5" fill="#ffffff" stroke="#a6d3ee" stroke-width="1.3"/>
<text x="387.8" y="303.47" font-size="4.3" fill="#333" stroke="#555" stroke-width="0.12" text-anchor="middle" textLength="36" lengthAdjust="spacingAndGlyphs">Loading/Unloading</text><text x="387.8" y="308.55" font-size="4.3" fill="#3a3a3a" text-anchor="middle" font-weight="bold">物流仓储装卸安全</text>
<rect x="6" y="313" width="78.6" height="3.5" rx="1.5" fill="#ffffff" stroke="#a9d5ee" stroke-width="1.0"/>
<rect x="327.6" y="313" width="79.2" height="3.5" rx="1.5" fill="#ffffff" stroke="#a9d5ee" stroke-width="1.0"/>
<rect x="113" y="347" width="43" height="11" rx="1" fill="#ffffff" stroke="#eef0f5" stroke-width="0.5"/>
<text x="134.5" y="351.73" font-size="4.3" fill="#333" stroke="#555" stroke-width="0.12" text-anchor="middle">I-SSE</text><text x="134.5" y="356.46" font-size="4.3" fill="#3a3a3a" text-anchor="middle" font-weight="bold">安全自诊断</text>
<rect x="113" y="361.2" width="43" height="11" rx="1" fill="#ffffff" stroke="#eef0f5" stroke-width="0.5"/>
<text x="134.5" y="365.93" font-size="4.3" fill="#333" stroke="#555" stroke-width="0.12" text-anchor="middle">OMS Audit</text><text x="134.5" y="370.66" font-size="4.3" fill="#3a3a3a" text-anchor="middle" font-weight="bold">运行管理体系审计</text>
<rect x="113" y="375.4" width="43" height="11" rx="1" fill="#ffffff" stroke="#eef0f5" stroke-width="0.5"/>
<text x="134.5" y="380.13" font-size="4.3" fill="#333" stroke="#555" stroke-width="0.12" text-anchor="middle">GB33000</text><text x="134.5" y="384.86" font-size="4.3" fill="#3a3a3a" text-anchor="middle" font-weight="bold">安全标准化</text>
<rect x="113" y="389.6" width="43" height="11" rx="1" fill="#ffffff" stroke="#eef0f5" stroke-width="0.5"/>
<text x="134.5" y="394.33" font-size="4.3" fill="#333" stroke="#555" stroke-width="0.12" text-anchor="middle">ISRS</text><text x="134.5" y="399.06" font-size="4.3" fill="#3a3a3a" text-anchor="middle" font-weight="bold">国际安全评级体系</text>
<rect x="113" y="404" width="43" height="3.7" rx="1" fill="#ffffff" stroke="#eef0f5" stroke-width="0.5"/>
<rect x="161" y="347" width="43" height="11" rx="1" fill="#ffffff" stroke="#eef0f5" stroke-width="0.5"/>
<text x="182.5" y="351.73" font-size="4.3" fill="#333" stroke="#555" stroke-width="0.12" text-anchor="middle">RCM</text><text x="182.5" y="356.46" font-size="4.3" fill="#3a3a3a" text-anchor="middle" font-weight="bold">可靠性管理</text>
<rect x="161" y="361.2" width="43" height="11" rx="1" fill="#ffffff" stroke="#eef0f5" stroke-width="0.5"/>
<text x="182.5" y="365.93" font-size="4.3" fill="#333" stroke="#555" stroke-width="0.12" text-anchor="middle">RE</text><text x="182.5" y="370.66" font-size="4.3" fill="#3a3a3a" text-anchor="middle" font-weight="bold">设备健康监视</text>
<rect x="161" y="375.4" width="43" height="11" rx="1" fill="#ffffff" stroke="#eef0f5" stroke-width="0.5"/>
<text x="182.5" y="380.13" font-size="4.3" fill="#333" stroke="#555" stroke-width="0.12" text-anchor="middle">RCFA</text><text x="182.5" y="384.86" font-size="4.3" fill="#3a3a3a" text-anchor="middle" font-weight="bold">设备故障分析</text>
<rect x="161" y="389.6" width="43" height="11" rx="1" fill="#ffffff" stroke="#eef0f5" stroke-width="0.5"/>
<text x="182.5" y="394.33" font-size="4.3" fill="#333" stroke="#555" stroke-width="0.12" text-anchor="middle">EAM</text><text x="182.5" y="399.06" font-size="4.3" fill="#3a3a3a" text-anchor="middle" font-weight="bold">企业资产管理</text>
<rect x="161" y="404" width="43" height="3.7" rx="1" fill="#ffffff" stroke="#eef0f5" stroke-width="0.5"/>
<rect x="209" y="347" width="43" height="11" rx="1" fill="#ffffff" stroke="#eef0f5" stroke-width="0.5"/>
<text x="230.5" y="351.73" font-size="4.3" fill="#333" stroke="#555" stroke-width="0.12" text-anchor="middle">SIF Test</text><text x="230.5" y="356.46" font-size="4.3" fill="#3a3a3a" text-anchor="middle" font-weight="bold">安全仪表测试</text>
<rect x="209" y="361.2" width="43" height="11" rx="1" fill="#ffffff" stroke="#eef0f5" stroke-width="0.5"/>
<text x="230.5" y="365.93" font-size="4.3" fill="#333" stroke="#555" stroke-width="0.12" text-anchor="middle">RBI</text><text x="230.5" y="370.66" font-size="4.3" fill="#3a3a3a" text-anchor="middle" font-weight="bold">基于风险的检验</text>
<rect x="209" y="375.4" width="43" height="11" rx="1" fill="#ffffff" stroke="#eef0f5" stroke-width="0.5"/>
<text x="230.5" y="380.13" font-size="4.3" fill="#333" stroke="#555" stroke-width="0.12" text-anchor="middle">Leak Detection</text><text x="230.5" y="384.86" font-size="4.3" fill="#3a3a3a" text-anchor="middle" font-weight="bold">气体泄漏检测</text>
<rect x="209" y="389.6" width="43" height="11" rx="1" fill="#ffffff" stroke="#eef0f5" stroke-width="0.5"/>
<text x="230.5" y="394.33" font-size="4.3" fill="#333" stroke="#555" stroke-width="0.12" text-anchor="middle" textLength="41" lengthAdjust="spacingAndGlyphs">Skid Unit Inspection</text><text x="230.5" y="399.06" font-size="4.3" fill="#3a3a3a" text-anchor="middle" font-weight="bold">成套设备检验</text>
<rect x="209" y="404" width="43" height="3.7" rx="1" fill="#ffffff" stroke="#eef0f5" stroke-width="0.5"/>
<rect x="257.3" y="347" width="42.7" height="11" rx="1" fill="#ffffff" stroke="#eef0f5" stroke-width="0.5"/>
<text x="278.65" y="351.73" font-size="4.3" fill="#333" stroke="#555" stroke-width="0.12" text-anchor="middle">LDAR</text><text x="278.65" y="356.46" font-size="4.3" fill="#3a3a3a" text-anchor="middle" font-weight="bold">泄漏监测与修复</text>
<rect x="257.3" y="361.2" width="42.7" height="11" rx="1" fill="#ffffff" stroke="#eef0f5" stroke-width="0.5"/>
<text x="278.65" y="365.93" font-size="4.3" fill="#333" stroke="#555" stroke-width="0.12" text-anchor="middle">GDS</text><text x="278.65" y="370.66" font-size="4.3" fill="#3a3a3a" text-anchor="middle" font-weight="bold">可燃有毒检测系统</text>
<rect x="257.3" y="375.4" width="42.7" height="11" rx="1" fill="#ffffff" stroke="#eef0f5" stroke-width="0.5"/>
<text x="278.65" y="380.13" font-size="4.3" fill="#333" stroke="#555" stroke-width="0.12" text-anchor="middle">Source Device</text><text x="278.65" y="384.86" font-size="4.3" fill="#3a3a3a" text-anchor="middle" font-weight="bold">源设备泄漏管理</text>
<rect x="257.3" y="389.6" width="42.7" height="11" rx="1" fill="#ffffff" stroke="#eef0f5" stroke-width="0.5"/>
<text x="278.65" y="394.33" font-size="4.3" fill="#333" stroke="#555" stroke-width="0.12" text-anchor="middle">GCIS</text><text x="278.65" y="399.06" font-size="4.3" fill="#3a3a3a" text-anchor="middle" font-weight="bold">声波监测和气云成像</text>
<rect x="257.3" y="404" width="42.7" height="3.7" rx="1" fill="#ffffff" stroke="#eef0f5" stroke-width="0.5"/>
<text x="112" y="11.799999999999997" font-size="9.4" font-weight="bold" fill="#4a86c8" stroke="#4a86c8" stroke-width="0.3" textLength="80" lengthAdjust="spacingAndGlyphs">Safety Priority System</text>
<text x="112" y="23.799999999999997" font-size="8.2" font-weight="bold" fill="#4a86c8" stroke="#4a86c8" stroke-width="0.25">安全优先系统</text>
<text x="198" y="8.3" font-size="4.3" fill="#4a86c8" stroke="#4a86c8" stroke-width="0.1" textLength="98" lengthAdjust="spacingAndGlyphs">Focus on Risks、 Based on Data, A New Safety System of</text>
<text x="198" y="13.6" font-size="4.3" fill="#4a86c8" stroke="#4a86c8" stroke-width="0.1" textLength="98" lengthAdjust="spacingAndGlyphs">IIoT+Safety Production Via Automation, Digitization and AI</text>
<text x="198" y="18.9" font-size="4.3" fill="#4a86c8" stroke="#4a86c8" stroke-width="0.1" textLength="96" lengthAdjust="spacingAndGlyphs">以风险管理为核心，以安全数据为基础，融合自动化提升、</text>
<text x="198" y="24.2" font-size="4.3" fill="#4a86c8" stroke="#4a86c8" stroke-width="0.1" textLength="96" lengthAdjust="spacingAndGlyphs">数智化建设的“工业互联网+危化安全生产”新型安全体系</text>
<text x="362.5" y="19.400000000000006" font-size="6.2" fill="#333" text-anchor="middle" textLength="85" lengthAdjust="spacingAndGlyphs">PMBOK® Guide - Seventh Edition*</text>
<text x="362" y="27.700000000000003" font-size="5.8" fill="#333" text-anchor="middle" textLength="84" lengthAdjust="spacingAndGlyphs">《项目管理知识体系指南》- 第七版</text>
<text x="360" y="35.8" font-size="4.4" fill="#333" text-anchor="middle">CVP Pyramid</text>
<text x="360" y="41.8" font-size="4.2" fill="#333" text-anchor="middle" font-weight="bold">项目发展金字塔</text>
<rect x="310.9" y="45.1" width="15.77" height="6.9" fill="url(#pyr)"/>
<rect x="313.75" y="47.1" width="10.06" height="0.6" fill="#557" opacity="0.3"/>
<rect x="315.43" y="49.1" width="6.71" height="0.6" fill="#557" opacity="0.3"/>
<rect x="327.67" y="45.1" width="15.77" height="6.9" fill="url(#pyr)"/>
<rect x="330.52" y="47.1" width="10.06" height="0.6" fill="#557" opacity="0.3"/>
<rect x="332.2" y="49.1" width="6.71" height="0.6" fill="#557" opacity="0.3"/>
<rect x="344.43" y="45.1" width="15.77" height="6.9" fill="url(#pyr)"/>
<rect x="347.29" y="47.1" width="10.06" height="0.6" fill="#557" opacity="0.3"/>
<rect x="348.96" y="49.1" width="6.71" height="0.6" fill="#557" opacity="0.3"/>
<rect x="361.2" y="45.1" width="15.77" height="6.9" fill="url(#pyr)"/>
<rect x="364.05" y="47.1" width="10.06" height="0.6" fill="#557" opacity="0.3"/>
<rect x="365.73" y="49.1" width="6.71" height="0.6" fill="#557" opacity="0.3"/>
<rect x="377.97" y="45.1" width="15.77" height="6.9" fill="url(#pyr)"/>
<rect x="380.82" y="47.1" width="10.06" height="0.6" fill="#557" opacity="0.3"/>
<rect x="382.5" y="49.1" width="6.71" height="0.6" fill="#557" opacity="0.3"/>
<rect x="394.73" y="45.1" width="15.77" height="6.9" fill="url(#pyr)"/>
<rect x="397.59" y="47.1" width="10.06" height="0.6" fill="#557" opacity="0.3"/>
<rect x="399.26" y="49.1" width="6.71" height="0.6" fill="#557" opacity="0.3"/>
<rect x="319.1" y="53.6" width="15.78" height="6.5" fill="url(#pyr)"/>
<rect x="321.96" y="55.6" width="10.07" height="0.6" fill="#557" opacity="0.3"/>
<rect x="323.63" y="57.6" width="6.71" height="0.6" fill="#557" opacity="0.3"/>
<rect x="335.88" y="53.6" width="15.78" height="6.5" fill="url(#pyr)"/>
<rect x="338.74" y="55.6" width="10.07" height="0.6" fill="#557" opacity="0.3"/>
<rect x="340.41" y="57.6" width="6.71" height="0.6" fill="#557" opacity="0.3"/>
<rect x="352.66" y="53.6" width="15.78" height="6.5" fill="url(#pyr)"/>
<rect x="355.52" y="55.6" width="10.07" height="0.6" fill="#557" opacity="0.3"/>
<rect x="357.19" y="57.6" width="6.71" height="0.6" fill="#557" opacity="0.3"/>
<rect x="369.44" y="53.6" width="15.78" height="6.5" fill="url(#pyr)"/>
<rect x="372.3" y="55.6" width="10.07" height="0.6" fill="#557" opacity="0.3"/>
<rect x="373.97" y="57.6" width="6.71" height="0.6" fill="#557" opacity="0.3"/>
<rect x="386.22" y="53.6" width="15.78" height="6.5" fill="url(#pyr)"/>
<rect x="389.08" y="55.6" width="10.07" height="0.6" fill="#557" opacity="0.3"/>
<rect x="390.75" y="57.6" width="6.71" height="0.6" fill="#557" opacity="0.3"/>
<rect x="327.7" y="62.5" width="15.7" height="6.5" fill="url(#pyr)"/>
<rect x="330.54" y="64.5" width="10.02" height="0.6" fill="#557" opacity="0.3"/>
<rect x="332.21" y="66.5" width="6.68" height="0.6" fill="#557" opacity="0.3"/>
<rect x="344.4" y="62.5" width="15.7" height="6.5" fill="url(#pyr)"/>
<rect x="347.24" y="64.5" width="10.02" height="0.6" fill="#557" opacity="0.3"/>
<rect x="348.91" y="66.5" width="6.68" height="0.6" fill="#557" opacity="0.3"/>
<rect x="361.1" y="62.5" width="15.7" height="6.5" fill="url(#pyr)"/>
<rect x="363.94" y="64.5" width="10.02" height="0.6" fill="#557" opacity="0.3"/>
<rect x="365.61" y="66.5" width="6.68" height="0.6" fill="#557" opacity="0.3"/>
<rect x="377.8" y="62.5" width="15.7" height="6.5" fill="url(#pyr)"/>
<rect x="380.64" y="64.5" width="10.02" height="0.6" fill="#557" opacity="0.3"/>
<rect x="382.31" y="66.5" width="6.68" height="0.6" fill="#557" opacity="0.3"/>
<rect x="336.5" y="71" width="15.57" height="6.5" fill="url(#pyr)"/>
<rect x="339.31" y="73" width="9.94" height="0.6" fill="#557" opacity="0.3"/>
<rect x="340.97" y="75" width="6.63" height="0.6" fill="#557" opacity="0.3"/>
<rect x="353.07" y="71" width="15.57" height="6.5" fill="url(#pyr)"/>
<rect x="355.88" y="73" width="9.94" height="0.6" fill="#557" opacity="0.3"/>
<rect x="357.54" y="75" width="6.63" height="0.6" fill="#557" opacity="0.3"/>
<rect x="369.63" y="71" width="15.57" height="6.5" fill="url(#pyr)"/>
<rect x="372.45" y="73" width="9.94" height="0.6" fill="#557" opacity="0.3"/>
<rect x="374.1" y="75" width="6.63" height="0.6" fill="#557" opacity="0.3"/>
<rect x="344.5" y="79.4" width="15.6" height="6.4" fill="url(#pyr)"/>
<rect x="347.32" y="81.4" width="9.96" height="0.6" fill="#557" opacity="0.3"/>
<rect x="348.98" y="83.4" width="6.64" height="0.6" fill="#557" opacity="0.3"/>
<rect x="361.1" y="79.4" width="15.6" height="6.4" fill="url(#pyr)"/>
<rect x="363.92" y="81.4" width="9.96" height="0.6" fill="#557" opacity="0.3"/>
<rect x="365.58" y="83.4" width="6.64" height="0.6" fill="#557" opacity="0.3"/>
<rect x="353.4" y="88.2" width="14.9" height="6.6" fill="url(#pyr)"/>
<rect x="356.08" y="90.2" width="9.54" height="0.6" fill="#557" opacity="0.3"/>
<rect x="357.67" y="92.2" width="6.36" height="0.6" fill="#557" opacity="0.3"/>
<ellipse cx="49" cy="51" rx="25" ry="3.5" fill="#e4e4e4" opacity="0.7"/>
<g stroke="#d2d2d2" stroke-linecap="round" stroke-linejoin="round" fill="none"><path d="M37,30 L40,41" stroke-width="6"/><path d="M40,41 L33,46 L29,51" stroke-width="3.4"/><path d="M40,41 L44,46 L45,51" stroke-width="3.4"/><path d="M38,33 L46,36" stroke-width="2.6"/><path d="M63,29 L60,41" stroke-width="6"/><path d="M60,41 L56,46 L57,51" stroke-width="3.4"/><path d="M60,41 L66,46 L69,51" stroke-width="3.4"/><path d="M62,32 L54,34" stroke-width="2.6"/></g>
<ellipse cx="36.5" cy="26.5" rx="3.8" ry="4.2" fill="#dadada"/>
<ellipse cx="64" cy="25.5" rx="3.8" ry="4.2" fill="#dadada"/>
<circle cx="49.60000000000002" cy="31.5" r="9.8" fill="#d7262b"/>
<circle cx="49.60000000000002" cy="31.5" r="8.4" fill="#f4f0f0"/>
<circle cx="49.60000000000002" cy="31.5" r="6.8" fill="#d7262b"/>
<circle cx="49.60000000000002" cy="31.5" r="5.2" fill="#f4f0f0"/>
<circle cx="49.60000000000002" cy="31.5" r="3.6" fill="#d7262b"/>
<circle cx="49.60000000000002" cy="31.5" r="2.2" fill="#f4f0f0"/>
<circle cx="49.60000000000002" cy="31.5" r="1.1" fill="#d7262b"/>
<rect x="20.8" y="55.3" width="55.6" height="11.8" rx="1.5" fill="#ffffff" stroke="#f3d3d3" stroke-width="0.8"/>
<text x="48.6" y="60.37" font-size="4.3" fill="#333" stroke="#555" stroke-width="0.12" text-anchor="middle" textLength="53.6" lengthAdjust="spacingAndGlyphs">No Personnel Injury Incidents</text><text x="48.6" y="65.45" font-size="4.3" fill="#3a3a3a" text-anchor="middle" font-weight="bold">无人员伤害事故</text>
<rect x="20.8" y="69.5" width="55.6" height="11.5" rx="1.5" fill="#ffffff" stroke="#f3d3d3" stroke-width="0.8"/>
<text x="48.6" y="74.44" font-size="4.3" fill="#333" stroke="#555" stroke-width="0.12" text-anchor="middle" textLength="53.6" lengthAdjust="spacingAndGlyphs">No Process Safety Incidents</text><text x="48.6" y="79.39" font-size="4.3" fill="#3a3a3a" text-anchor="middle" font-weight="bold">无工艺安全事故</text>
<rect x="20.8" y="83.5" width="55.6" height="11.8" rx="1.5" fill="#ffffff" stroke="#f3d3d3" stroke-width="0.8"/>
<text x="48.6" y="88.57" font-size="4.3" fill="#333" stroke="#555" stroke-width="0.12" text-anchor="middle">AI+Safety & Compliance</text><text x="48.6" y="93.65" font-size="4.3" fill="#3a3a3a" text-anchor="middle" font-weight="bold">AI+安全合规性</text>
<path d="M80,106 C87,119 107,126 130,133" fill="none" stroke="#e6c24a" stroke-width="3.2"/>
<polygon points="77,98 75,108 84,105" fill="#e6c24a"/>
<path d="M101,103 C107,112 122,116 142,123" fill="none" stroke="#e6c24a" stroke-width="2.6"/>
<polygon points="99,96 97,105 105,103" fill="#e6c24a"/>
<path d="M80,91 C83,111 102,120 137,128" fill="none" stroke="#d62a2a" stroke-width="3"/>
<polygon points="79,83.5 73.5,94 85.5,93" fill="#d62a2a"/>
<circle cx="112" cy="106" r="2.8" fill="#ececec"/>
<path d="M112,108 L113,117" stroke="#e6e6e6" stroke-width="3" stroke-linecap="round"/>
<circle cx="121" cy="110" r="2.8" fill="#ececec"/>
<path d="M121,112 L122,121" stroke="#e6e6e6" stroke-width="3" stroke-linecap="round"/>
<text x="47.5" y="331.5" font-size="5.8" fill="#333" text-anchor="middle" font-weight="bold" textLength="71" lengthAdjust="spacingAndGlyphs">国内法规标准 AQ/T3034-2022</text>
<text x="47" y="339.5" font-size="4.2" fill="#666" text-anchor="middle">Process Safety Management System</text>
<text x="47" y="345.5" font-size="4.2" fill="#666" text-anchor="middle">过程安全管理体系</text>
<polygon points="47,347.5 4,354.5 90,354.5" fill="#7fd0cc"/>
<rect x="39" y="349" width="16" height="4" fill="#ffffff" opacity="0.35"/>
<rect x="2.6999999999999886" y="354.5" width="89.10000000000002" height="1.5" fill="#9fdcd8"/>
<rect x="2.6999999999999886" y="356" width="89.10000000000002" height="68" fill="#c4ccd8"/>
<rect x="3.3" y="356" width="3.26" height="68" fill="#8cd5d1"/>
<rect x="4" y="357.5" width="1.1" height="11.0" fill="#2f4650" opacity="0.5"/>
<rect x="4" y="394.5" width="1.1" height="11.5" fill="#2f4650" opacity="0.5"/>
<rect x="7.75" y="356" width="3.26" height="68" fill="#8cd5d1"/>
<rect x="8.45" y="357.5" width="1.1" height="29.2" fill="#2f4650" opacity="0.5"/>
<rect x="8.45" y="394.5" width="1.1" height="15.0" fill="#2f4650" opacity="0.5"/>
<rect x="12.21" y="356" width="3.26" height="68" fill="#8cd5d1"/>
<rect x="12.91" y="357.5" width="1.1" height="21.8" fill="#2f4650" opacity="0.5"/>
<rect x="12.91" y="394.5" width="1.1" height="12.8" fill="#2f4650" opacity="0.5"/>
<rect x="16.66" y="356" width="3.26" height="68" fill="#8cd5d1"/>
<rect x="17.36" y="357.5" width="1.1" height="19.2" fill="#2f4650" opacity="0.5"/>
<rect x="17.36" y="394.5" width="1.1" height="14.2" fill="#2f4650" opacity="0.5"/>
<rect x="21.12" y="356" width="3.26" height="68" fill="#8cd5d1"/>
<rect x="21.82" y="357.5" width="1.1" height="15.7" fill="#2f4650" opacity="0.5"/>
<rect x="21.82" y="394.5" width="1.1" height="17.4" fill="#2f4650" opacity="0.5"/>
<rect x="25.57" y="356" width="3.26" height="68" fill="#8cd5d1"/>
<rect x="26.27" y="357.5" width="1.1" height="20.9" fill="#2f4650" opacity="0.5"/>
<rect x="26.27" y="394.5" width="1.1" height="22.5" fill="#2f4650" opacity="0.5"/>
<rect x="30.03" y="356" width="3.26" height="68" fill="#8cd5d1"/>
<rect x="30.73" y="357.5" width="1.1" height="23.0" fill="#2f4650" opacity="0.5"/>
<rect x="30.73" y="394.5" width="1.1" height="22.9" fill="#2f4650" opacity="0.5"/>
<rect x="34.48" y="356" width="3.26" height="68" fill="#8cd5d1"/>
<rect x="35.18" y="357.5" width="1.1" height="26.8" fill="#2f4650" opacity="0.5"/>
<rect x="35.18" y="394.5" width="1.1" height="23.9" fill="#2f4650" opacity="0.5"/>
<rect x="38.94" y="356" width="3.26" height="68" fill="#8cd5d1"/>
<rect x="39.64" y="357.5" width="1.1" height="22.8" fill="#2f4650" opacity="0.5"/>
<rect x="39.64" y="394.5" width="1.1" height="10.6" fill="#2f4650" opacity="0.5"/>
<rect x="43.39" y="356" width="3.26" height="68" fill="#8cd5d1"/>
<rect x="44.09" y="357.5" width="1.1" height="26.9" fill="#2f4650" opacity="0.5"/>
<rect x="44.09" y="394.5" width="1.1" height="23.4" fill="#2f4650" opacity="0.5"/>
<rect x="47.85" y="356" width="3.26" height="68" fill="#8cd5d1"/>
<rect x="48.55" y="357.5" width="1.1" height="27.9" fill="#2f4650" opacity="0.5"/>
<rect x="48.55" y="394.5" width="1.1" height="17.1" fill="#2f4650" opacity="0.5"/>
<rect x="52.3" y="356" width="3.26" height="68" fill="#8cd5d1"/>
<rect x="53" y="357.5" width="1.1" height="23.7" fill="#2f4650" opacity="0.5"/>
<rect x="53" y="394.5" width="1.1" height="11.4" fill="#2f4650" opacity="0.5"/>
<rect x="56.76" y="356" width="3.26" height="68" fill="#8cd5d1"/>
<rect x="57.46" y="357.5" width="1.1" height="26.3" fill="#2f4650" opacity="0.5"/>
<rect x="57.46" y="394.5" width="1.1" height="17.2" fill="#2f4650" opacity="0.5"/>
<rect x="61.22" y="356" width="3.26" height="68" fill="#8cd5d1"/>
<rect x="61.91" y="357.5" width="1.1" height="14.3" fill="#2f4650" opacity="0.5"/>
<rect x="61.91" y="394.5" width="1.1" height="9.0" fill="#2f4650" opacity="0.5"/>
<rect x="65.67" y="356" width="3.26" height="68" fill="#8cd5d1"/>
<rect x="66.37" y="357.5" width="1.1" height="26.8" fill="#2f4650" opacity="0.5"/>
<rect x="66.37" y="394.5" width="1.1" height="23.8" fill="#2f4650" opacity="0.5"/>
<rect x="70.12" y="356" width="3.26" height="68" fill="#8cd5d1"/>
<rect x="70.83" y="357.5" width="1.1" height="9.9" fill="#2f4650" opacity="0.5"/>
<rect x="70.83" y="394.5" width="1.1" height="20.8" fill="#2f4650" opacity="0.5"/>
<rect x="74.58" y="356" width="3.26" height="68" fill="#8cd5d1"/>
<rect x="75.28" y="357.5" width="1.1" height="17.0" fill="#2f4650" opacity="0.5"/>
<rect x="75.28" y="394.5" width="1.1" height="10.4" fill="#2f4650" opacity="0.5"/>
<rect x="79.03" y="356" width="3.26" height="68" fill="#8cd5d1"/>
<rect x="79.73" y="357.5" width="1.1" height="14.5" fill="#2f4650" opacity="0.5"/>
<rect x="79.73" y="394.5" width="1.1" height="20.3" fill="#2f4650" opacity="0.5"/>
<rect x="83.49" y="356" width="3.26" height="68" fill="#8cd5d1"/>
<rect x="84.19" y="357.5" width="1.1" height="27.2" fill="#2f4650" opacity="0.5"/>
<rect x="84.19" y="394.5" width="1.1" height="8.7" fill="#2f4650" opacity="0.5"/>
<rect x="87.95" y="356" width="3.26" height="68" fill="#8cd5d1"/>
<rect x="88.65" y="357.5" width="1.1" height="21.5" fill="#2f4650" opacity="0.5"/>
<rect x="88.65" y="394.5" width="1.1" height="8.7" fill="#2f4650" opacity="0.5"/>
<rect x="2.6999999999999886" y="424" width="89.10000000000002" height="4.5" fill="#84d0cc"/>
<text x="367" y="331.5" font-size="5.8" fill="#333" text-anchor="middle" font-weight="bold" textLength="74" lengthAdjust="spacingAndGlyphs">国际法规标准 IEC 61511-1:2016</text>
<text x="367" y="339.5" font-size="4.2" fill="#666" text-anchor="middle">LOPA Improvement</text>
<text x="367" y="345.5" font-size="4.2" fill="#666" text-anchor="middle">保护层管理与提升</text>
<rect x="330.5" y="346.4" width="72.3" height="81.1" rx="3" fill="url(#nest0)"/>
<rect x="360.65" y="348.9" width="12" height="0.6" fill="#335" opacity="0.25"/>
<rect x="359.65" y="350.9" width="14" height="0.6" fill="#335" opacity="0.25"/>
<rect x="334.7" y="355" width="63.9" height="70.9" rx="3" fill="#3f6fc0" fill-opacity="0.11" stroke="#d8f0fa" stroke-opacity="0.6" stroke-width="0.5"/>
<rect x="360.65" y="357.5" width="12" height="0.6" fill="#335" opacity="0.25"/>
<rect x="359.65" y="359.5" width="14" height="0.6" fill="#335" opacity="0.25"/>
<rect x="338.9" y="363.6" width="55.5" height="60.7" rx="3" fill="#3f6fc0" fill-opacity="0.11" stroke="#d8f0fa" stroke-opacity="0.6" stroke-width="0.5"/>
<rect x="360.65" y="366.1" width="12" height="0.6" fill="#335" opacity="0.25"/>
<rect x="359.65" y="368.1" width="14" height="0.6" fill="#335" opacity="0.25"/>
<rect x="343.1" y="372.2" width="47.1" height="50.5" rx="3" fill="#3f6fc0" fill-opacity="0.11" stroke="#d8f0fa" stroke-opacity="0.6" stroke-width="0.5"/>
<rect x="360.65" y="374.7" width="12" height="0.6" fill="#335" opacity="0.25"/>
<rect x="359.65" y="376.7" width="14" height="0.6" fill="#335" opacity="0.25"/>
<rect x="347.3" y="380.8" width="38.7" height="40.3" rx="3" fill="#3f6fc0" fill-opacity="0.11" stroke="#d8f0fa" stroke-opacity="0.6" stroke-width="0.5"/>
<rect x="360.65" y="383.3" width="12" height="0.6" fill="#335" opacity="0.25"/>
<rect x="359.65" y="385.3" width="14" height="0.6" fill="#335" opacity="0.25"/>
<rect x="351.5" y="389.4" width="30.3" height="30.1" rx="3" fill="#3f6fc0" fill-opacity="0.11" stroke="#d8f0fa" stroke-opacity="0.6" stroke-width="0.5"/>
<rect x="360.65" y="391.9" width="12" height="0.6" fill="#335" opacity="0.25"/>
<rect x="359.65" y="393.9" width="14" height="0.6" fill="#335" opacity="0.25"/>
<rect x="355.7" y="398" width="21.9" height="19.9" rx="3" fill="#3f6fc0" fill-opacity="0.11" stroke="#d8f0fa" stroke-opacity="0.6" stroke-width="0.5"/>
<rect x="360.65" y="400.5" width="12" height="0.6" fill="#335" opacity="0.25"/>
<rect x="359.65" y="402.5" width="14" height="0.6" fill="#335" opacity="0.25"/>
<rect x="359.9" y="406.6" width="13.5" height="9.7" rx="3" fill="#3f6fc0" fill-opacity="0.11" stroke="#d8f0fa" stroke-opacity="0.6" stroke-width="0.5"/>
<rect x="360.65" y="409.1" width="12" height="0.6" fill="#335" opacity="0.25"/>
<rect x="359.65" y="411.1" width="14" height="0.6" fill="#335" opacity="0.25"/>
<rect x="364.1" y="415.2" width="5.1" height="-0.5" rx="3" fill="#3f6fc0" fill-opacity="0.11" stroke="#d8f0fa" stroke-opacity="0.6" stroke-width="0.5"/>
<rect x="360.65" y="417.7" width="12" height="0.6" fill="#335" opacity="0.25"/>
<rect x="359.65" y="419.7" width="14" height="0.6" fill="#335" opacity="0.25"/></svg>
<div class="h" style="left:718px;top:56.5px;width:80px">三层架构</div>
<svg class="abs" style="left:670px;top:75px" width="190" height="175">
 <defs>
  <linearGradient id="pt1" x1="0" y1="0" x2="0" y2="1"><stop offset="0" stop-color="#e2f1fc"/><stop offset="1" stop-color="#c4e2f9"/></linearGradient>
  <linearGradient id="pt2" x1="0" y1="0" x2="0" y2="1"><stop offset="0" stop-color="#86c8f7"/><stop offset="1" stop-color="#62b4f4"/></linearGradient>
  <linearGradient id="ph2" x1="0" y1="0" x2="0" y2="1"><stop offset="0" stop-color="#6ab6ee"/><stop offset="1" stop-color="#ffffff"/></linearGradient>
  <linearGradient id="pt3" x1="0" y1="0" x2="1" y2="0"><stop offset="0" stop-color="#1a88f0"/><stop offset="0.5" stop-color="#2093f6"/><stop offset="1" stop-color="#1a88f0"/></linearGradient>
  <linearGradient id="ph3" x1="0" y1="0" x2="0" y2="1"><stop offset="0" stop-color="#3f9ff0"/><stop offset="1" stop-color="#ffffff"/></linearGradient>
 </defs>
 <path d="M93.5,5.7 L60,59 A34,6 0 0 0 128,59 Z" fill="url(#pt1)"/>
 <path d="M52.6,69 L34.6,102.7 A59.6,8.5 0 0 0 153.8,102.7 L133.3,69 Z" fill="url(#pt2)"/>
 <ellipse cx="93" cy="69" rx="40.3" ry="8" fill="#74bff5"/>
 <ellipse cx="93" cy="71" rx="38" ry="5.6" fill="url(#ph2)"/>
 <path d="M25.6,125 L7.7,150 A86.6,19.5 0 0 0 180.8,150 L160.3,125 Z" fill="url(#pt3)"/>
 <ellipse cx="93" cy="121" rx="67.4" ry="14.5" fill="#2192f5"/>
 <ellipse cx="92.4" cy="124" rx="65.3" ry="11" fill="url(#ph3)"/>
</svg>
<div class="abs" style="left:730px;top:96.5px;width:76px;text-align:center;font-size:12px;font-weight:bold;color:#1c28c8;line-height:13.5px">场景应用层<br>（100+APP）</div>
<div class="abs" style="left:700px;top:156.5px;width:130px;text-align:center;font-size:16px;color:#ff1010;line-height:20px;font-family:'Liberation Serif',serif"><b style="font-family:'Liberation Sans',sans-serif">AI+</b>安全模型层</div>
<div class="abs" style="left:681px;top:215px;width:160px;text-align:center;font-size:22.5px;color:#1d2ee6;line-height:28px;font-family:'Liberation Serif',serif">安全类数据层</div>
<div class="h" style="left:688.5px;top:279.5px;width:140px">全生命周期安全</div>

<!-- lifecycle box -->
<div class="bluebox" style="left:667.5px;top:305.5px;width:179.5px;height:177px"></div>
<div class="cell" style="left:687px;top:316px;width:34px;height:24px">设计</div>
<div class="cell" style="left:724px;top:316px;width:34px;height:24px">采购</div>
<div class="cell" style="left:759px;top:316px;width:35px;height:24px">施工</div>
<div class="cell" style="left:796px;top:316px;width:35px;height:24px">试车</div>
<div class="cell two" style="left:687px;top:343px;width:34px;height:24px">报废<br>安全</div>
<div class="cell" style="left:687px;top:369px;width:34px;height:24px">应急</div>
<div class="cell" style="left:687px;top:396px;width:34px;height:23px">大修</div>
<div class="cell" style="left:687px;top:422px;width:34px;height:24px">维修</div>
<div class="cell" style="left:687px;top:448px;width:34px;height:24px">验证</div>
<div class="cell" style="left:796px;top:343px;width:35px;height:24px">操作</div>
<div class="cell" style="left:796px;top:369px;width:35px;height:24px">优化</div>
<div class="cell two" style="left:796px;top:396px;width:35px;height:23px">产品<br>安全</div>
<div class="cell two" style="left:796px;top:422px;width:35px;height:24px">物流<br>安全</div>
<div class="cell two" style="left:796px;top:448px;width:35px;height:24px">泄露<br>管理</div>
<div class="cell" style="left:725px;top:448px;width:35px;height:24px;font-size:11px">可靠性</div>
<div class="cell" style="left:762px;top:448px;width:34px;height:24px">检验</div>
<svg class="abs" style="left:670px;top:306px" width="177" height="177">
 <rect x="64" y="44" width="49" height="89" fill="none" stroke="#fff" stroke-width="1.6"/>
 <polygon points="86,40.5 92,44 86,47.5" fill="#fff"/>
 <polygon points="109.5,84 113,90 116.5,84" fill="#fff"/>
 <polygon points="92,129.5 86,133 92,136.5" fill="#fff"/>
 <polygon points="60.5,92 64,86 67.5,92" fill="#fff"/>
</svg>

<div class="abs" style="left:878.5px;top:487px;font-size:15px;line-height:17px;color:#222">1</div>
</body></html>
